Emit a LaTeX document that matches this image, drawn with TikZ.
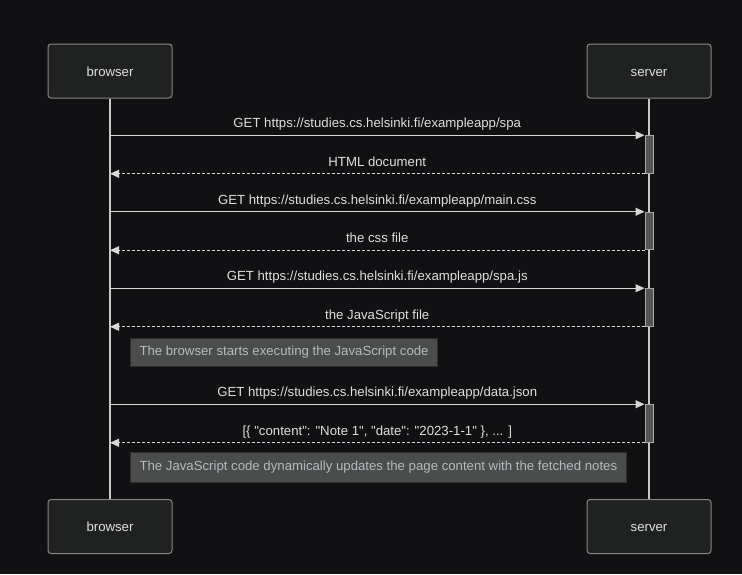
\documentclass[tikz,border=0pt]{standalone}
\usepackage{fontspec}
\setmainfont{Liberation Sans}
\usepackage{tikz}
\usepackage{xcolor}
\usetikzlibrary{arrows.meta,positioning,calc}
\definecolor{bgc}{RGB}{17,17,19}
\definecolor{actfill}{RGB}{32,34,34}
\definecolor{actline}{RGB}{135,135,135}
\definecolor{lifec}{RGB}{200,200,200}
\definecolor{barfill}{RGB}{85,85,85}
\definecolor{barline}{RGB}{170,170,170}
\definecolor{msgline}{RGB}{215,215,215}
\definecolor{msgtext}{RGB}{222,222,222}
\definecolor{notefill}{RGB}{75,76,76}
\definecolor{noteline}{RGB}{45,45,45}
\definecolor{notetext}{RGB}{182,186,190}

\begin{document}
\begin{tikzpicture}[x=1pt,y=-1pt,font=\fontsize{13.2}{15}\selectfont,
  >={Triangle[length=9pt,width=8pt]},
  actor/.style={draw=actline,fill=actfill,rounded corners=3pt,line width=1pt,
    minimum width=124pt,minimum height=54pt,text=msgtext,
    text height=12pt,text depth=1.5pt},
  act/.style={draw=barline,fill=barfill,line width=1pt,minimum width=8pt,
    minimum height=37.5pt,inner sep=0pt},
  note/.style={draw=noteline,fill=notefill,text=notetext,line width=1pt,
    anchor=west,inner xsep=9pt,minimum height=28pt},
  life/.style={draw=lifec,line width=1.3pt},
  msg/.style={draw=msgline,line width=1.2pt,->},
  ret/.style={msg,dash pattern=on 3pt off 2pt},
  lbl/.style={midway,above=1pt,text=msgtext,text height=9.5pt,text depth=2.8pt}]
  \fill[bgc] (0,0) rectangle (742,574);
  \useasboundingbox (0,0) rectangle (742,574);

  \node[actor] (bt) at (110,71) {browser};
  \node[actor] (st) at (649,71) {server};
  \node[actor] (bb) at (110,526.5) {browser};
  \node[actor] (sb) at (649,526.5) {server};
  \draw[life] (bt) -- (bb);
  \draw[life] (st) -- (sb);

  \node[act] (a1) at (649,154.5) {};
  \node[act] (a2) at (649,231) {};
  \node[act] (a3) at (649,307.5) {};
  \node[act] (a4) at (649,423.5) {};

  \draw[msg] (a1.north west -| bt) -- node[lbl]{GET https://studies.cs.helsinki.fi/exampleapp/spa} (a1.north west);
  \draw[ret] (a1.south west) -- node[lbl]{HTML document} (a1.south west -| bt);
  \draw[msg] (a2.north west -| bt) -- node[lbl]{GET https://studies.cs.helsinki.fi/exampleapp/main.css} (a2.north west);
  \draw[ret] (a2.south west) -- node[lbl]{the css file} (a2.south west -| bt);
  \draw[msg] (a3.north west -| bt) -- node[lbl]{GET https://studies.cs.helsinki.fi/exampleapp/spa.js} (a3.north west);
  \draw[ret] (a3.south west) -- node[lbl]{the JavaScript file} (a3.south west -| bt);
  \node[note] (n1) at (130,352) {The browser starts executing the JavaScript code};
  \draw[msg] (a4.north west -| bt) -- node[lbl]{GET https://studies.cs.helsinki.fi/exampleapp/data.json} (a4.north west);
  \draw[ret] (a4.south west) -- node[lbl]{[\{ \textquotedbl content\textquotedbl: \textquotedbl Note 1\textquotedbl, \textquotedbl date\textquotedbl: \textquotedbl 2023-1-1\textquotedbl{} \}, ... ]} (a4.south west -| bt);
  \node[note,minimum height=30pt] (n2) at (130,467) {The JavaScript code dynamically updates the page content with the fetched notes};
\end{tikzpicture}
\end{document}
